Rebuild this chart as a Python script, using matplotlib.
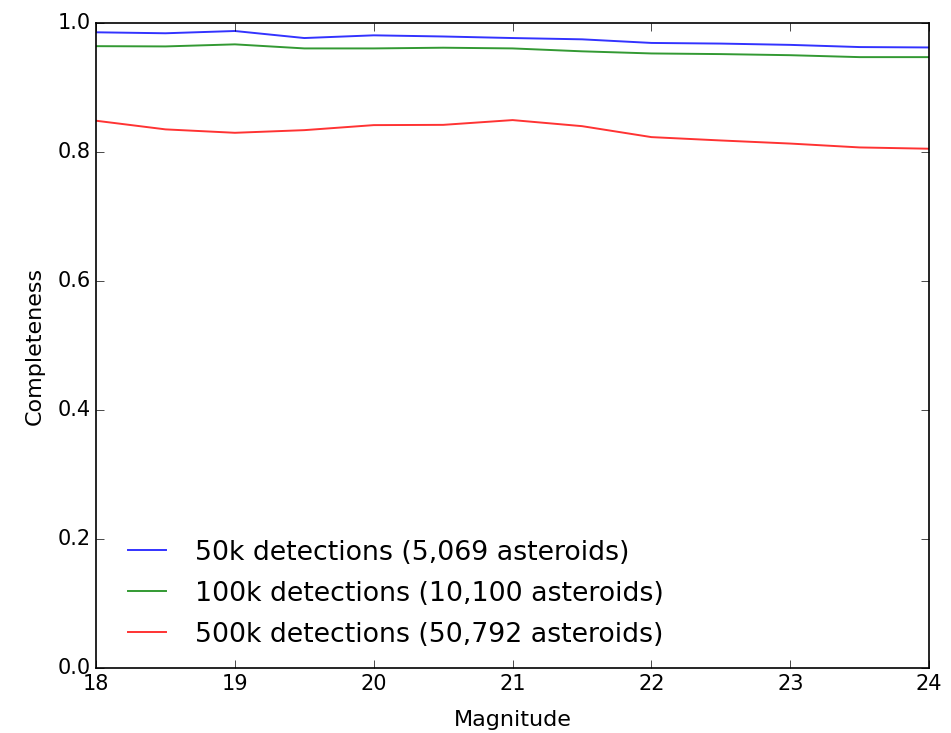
import matplotlib
matplotlib.use('Agg')
import matplotlib.pyplot as plt

magnitude = [18.0, 18.5, 19.0, 19.5, 20.0, 20.5, 21.0, 21.5, 22.0, 22.5, 23.0, 23.5, 24.0]

# completeness per magnitude bin
comp_50k = [0.9855, 0.984, 0.9875, 0.9766, 0.9808, 0.979, 0.9766, 0.9746, 0.969, 0.968, 0.966, 0.9626, 0.962]
comp_100k = [0.964, 0.9636, 0.9668, 0.9605, 0.9605, 0.9616, 0.9605, 0.956, 0.9527, 0.9517, 0.950, 0.947, 0.947]
comp_500k = [0.8484, 0.835, 0.8297, 0.8338, 0.8416, 0.842, 0.8494, 0.840, 0.823, 0.8178, 0.813, 0.807, 0.805]

labels = ['50k detections (5,069 asteroids)',
          '100k detections (10,100 asteroids)',
          '500k detections (50,792 asteroids)']

plt.style.use('classic')
plt.rcParams['font.family'] = ['DejaVu Sans']
plt.rcParams['xtick.major.size'] = 5.8
plt.rcParams['ytick.major.size'] = 5.8
plt.rcParams['axes.linewidth'] = 1.2

fig = plt.figure(figsize=(9.51, 7.33), dpi=100, facecolor='white')
ax = fig.add_axes([0.101, 0.0887, 0.876, 0.88])

ax.plot(magnitude, comp_50k, color='b', lw=1.4, alpha=0.8, label=labels[0])
ax.plot(magnitude, comp_100k, color='g', lw=1.4, alpha=0.8, label=labels[1])
ax.plot(magnitude, comp_500k, color='r', lw=1.4, alpha=0.8, label=labels[2])

ax.set_xlim(18, 24)
ax.set_ylim(0, 1)
ax.tick_params(labelsize=15)
ax.set_xlabel('Magnitude', fontsize=16, labelpad=12)
ax.set_ylabel('Completeness', fontsize=16, labelpad=9)
ax.legend(loc='lower left', frameon=False, fontsize=19.3, labelspacing=0.56,
          bbox_to_anchor=(0.0, -0.006))

fig.savefig('out.png', dpi=100, facecolor='white')
